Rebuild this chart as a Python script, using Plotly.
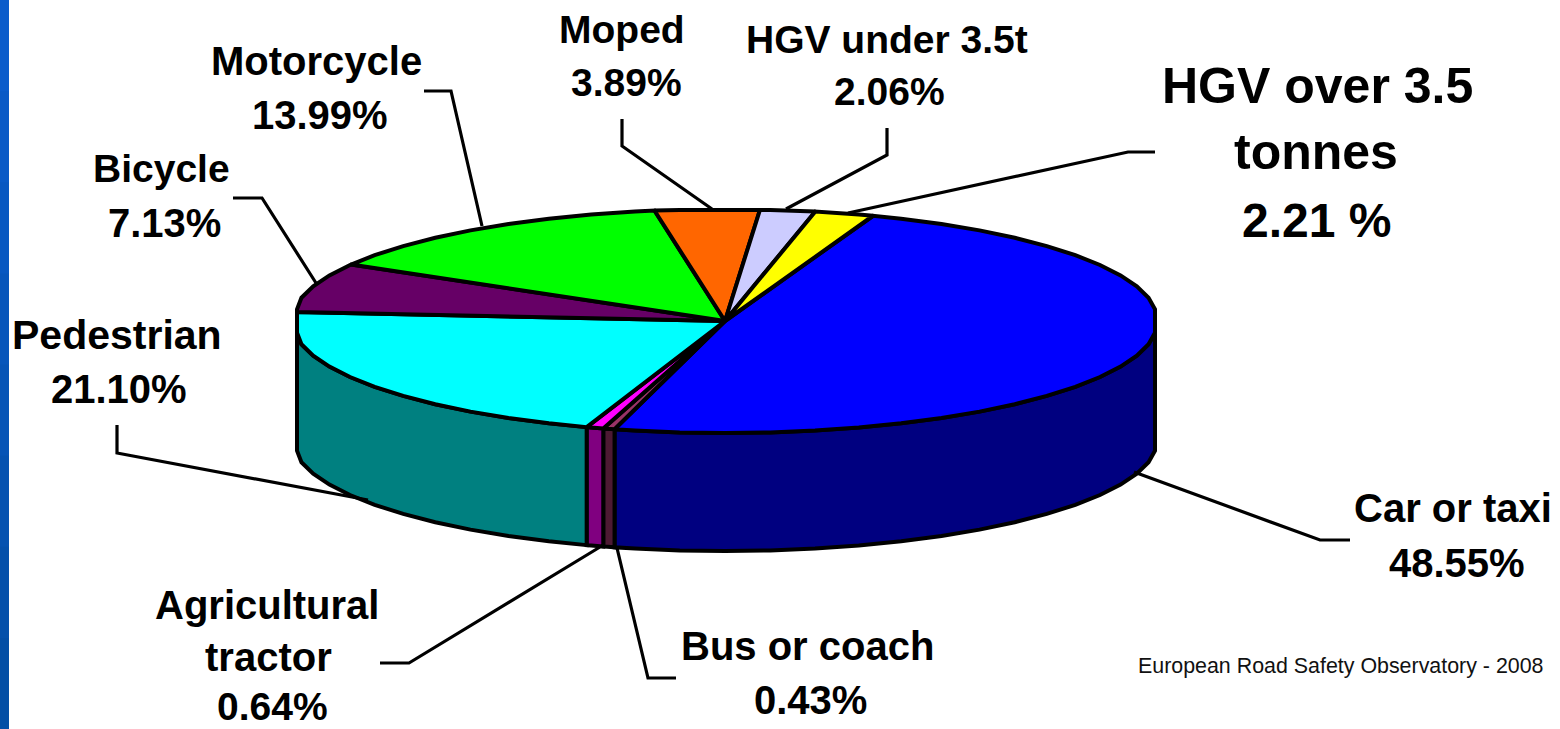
import math
import plotly.graph_objects as go

# ---- data (clockwise from the top-right, as in the picture) ----
categories = ["Car or taxi", "Bus or coach", "Agricultural tractor", "Pedestrian", "Bicycle",
              "Motorcycle", "Moped", "HGV under 3.5t", "HGV over 3.5 tonnes"]
values = [48.55, 0.43, 0.64, 21.10, 7.13, 13.99, 3.89, 2.06, 2.21]
top_colors = ["#0000FF", "#993366", "#FF00FF", "#00FFFF", "#660066",
              "#00FF00", "#FF6600", "#CCCCFF", "#FFFF00"]
wall_colors = ["#000080", "#4D1933", "#800080", "#008080", "#330033",
               "#008000", "#803300", "#666680", "#808000"]

label_lines = [["Car or taxi"], ["Bus or coach"], ["Agricultural", "tractor"], ["Pedestrian"], ["Bicycle"],
               ["Motorcycle"], ["Moped"], ["HGV under 3.5t"], ["HGV over 3.5", "tonnes"]]
value_suffix = ["%", "%", "%", "%", "%", "%", "%", "%", " %"]
label_font = [[40, 40], [40, 40], [40, 40, 39], [41, 40], [39, 40],
              [40, 40], [39, 39], [39, 39], [50, 50, 48]]
label_xy = [
    [(1453, 508), (1457, 563)],
    [(807, 646), (810, 700)],
    [(267, 605), (268, 657), (272, 706)],
    [(117, 335), (119, 389)],
    [(161, 168), (164, 223)],
    [(316, 61), (320, 115)],
    [(622, 29), (626, 82)],
    [(887, 39), (889, 91)],
    [(1317, 86), (1316, 152), (1316, 220)],
]
leaders = [
    [(1350, 540), (1320, 540), (1134, 472)],
    [(676, 678), (648, 678), (617, 548)],
    [(380, 663), (409, 663), (600, 547)],
    [(117, 425), (117, 453), (368, 500)],
    [(233, 198), (262, 198), (316, 283)],
    [(424, 91), (451, 91), (482, 226)],
    [(622, 119), (622, 146), (712, 209)],
    [(887, 128), (887, 155), (786, 209)],
    [(1155, 152), (1128, 152), (848, 213)],
]
source_note = "European Road Safety Observatory - 2008"

# ---- pie geometry ----
CX, CY, RX, RY, DEPTH = 725.0, 321.0, 433.0, 112.0, 118.0
X_MIN, X_MAX, Y_MIN = 297.0, 1155.0, 210.0
START_ANGLE = 20.0
STEP = 6.0
OUTLINE = 4


def rim(angle):
    a = math.radians(angle)
    x = min(X_MAX, max(X_MIN, CX + RX * math.sin(a)))
    y = max(Y_MIN, CY - RY * math.cos(a))
    return x, y


def arc_angles(a0, a1):
    out = [a0]
    a = (math.floor(a0 / STEP) + 1) * STEP
    while a < a1:
        out.append(a)
        a += STEP
    out.append(a1)
    return out


fig = go.Figure()


def poly(xs, ys, fill):
    fig.add_trace(go.Scatter(x=xs, y=ys, mode="lines", fill="toself", fillcolor=fill,
                             line=dict(color="black", width=OUTLINE, simplify=False),
                             hoverinfo="skip", showlegend=False))


spans = []
angle = START_ANGLE
for v in values:
    spans.append((angle, angle + v * 3.6))
    angle += v * 3.6

# walls: only the front half of the rim is visible
for (a0, a1), col in zip(spans, wall_colors):
    lo, hi = max(a0, 90.0), min(a1, 270.0)
    if lo >= hi:
        continue
    pts = [rim(a) for a in arc_angles(lo, hi)]
    xs = [p[0] for p in pts] + [p[0] for p in reversed(pts)] + [pts[0][0]]
    ys = [p[1] for p in pts] + [p[1] + DEPTH for p in reversed(pts)] + [pts[0][1]]
    poly(xs, ys, col)

# top face
for (a0, a1), col in zip(spans, top_colors):
    pts = [rim(a) for a in arc_angles(a0, a1)]
    poly([CX] + [p[0] for p in pts] + [CX], [CY] + [p[1] for p in pts] + [CY], col)

# leader lines
for pts in leaders:
    fig.add_trace(go.Scatter(x=[p[0] for p in pts], y=[p[1] for p in pts], mode="lines",
                             line=dict(color="black", width=3.2), hoverinfo="skip", showlegend=False))

# labels
for lines, v, suf, sizes, xy in zip(label_lines, values, value_suffix, label_font, label_xy):
    texts = lines + [f"{v:.2f}{suf}"]
    for t, size, (x, y) in zip(texts, sizes, xy):
        fig.add_annotation(x=x, y=y, text=f"<b>{t}</b>", showarrow=False, xanchor="center", yanchor="middle",
                           font=dict(family="Liberation Sans", size=size, color="black"))

fig.add_annotation(x=1545, y=666, text=source_note, showarrow=False, xanchor="right", yanchor="middle",
                   font=dict(family="Liberation Sans", size=21.4, color="#111111"))

# blue strip at the left edge
strip = ["#0A5CCB", "#095ac6", "#0858c1", "#0756bb", "#0654b6", "#0552b0", "#0450aa", "#034ea5"]
shapes = []
for i, c in enumerate(strip):
    shapes.append(dict(type="rect", xref="x", yref="y", x0=0, x1=9, y0=i * 729 / len(strip),
                       y1=(i + 1) * 729 / len(strip) + 2, fillcolor=c, line=dict(width=0), layer="below"))

fig.update_layout(
    width=1560, height=729, margin=dict(l=0, r=0, t=0, b=0),
    paper_bgcolor="white", plot_bgcolor="white", shapes=shapes, showlegend=False,
    xaxis=dict(range=[0, 1560], visible=False, fixedrange=True),
    yaxis=dict(range=[729, 0], visible=False, fixedrange=True),
)
fig.write_html("out.html", config={"displayModeBar": False},
               post_script="document.body.style.margin='0';document.documentElement.style.overflow='hidden';")
